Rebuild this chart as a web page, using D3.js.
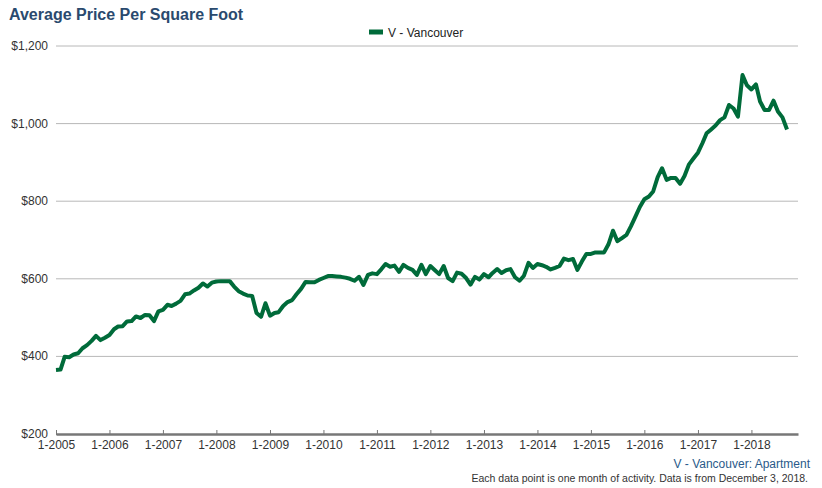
<!DOCTYPE html>
<html><head><meta charset="utf-8">
<script src="https://cdn.jsdelivr.net/npm/d3@7"></script>
<style>body{margin:0;background:#fff;font-family:"Liberation Sans",Arial,sans-serif}</style>
</head><body><svg id="c" width="822" height="488"></svg>
<script>
const startMonth = "2005-01";
const prices = [365,366,399,398,405,408,421,429,440,453,442,448,455,470,477,478,490,491,503,499,507,506,491,516,520,533,530,536,543,560,562,570,577,588,580,590,593,594,594,594,580,568,562,557,556,512,502,537,505,512,514,530,540,545,560,574,592,591,591,597,602,607,
607,606,605,603,600,595,605,584,610,614,612,625,638,631,634,618,636,628,623,610,636,612,633,622,612,633,602,594,616,613,602,585,605,598,612,604,615,625,615,622,625,604,595,608,641,628,638,635,631,624,628,633,652,648,651,623,645,664,664,668,
668,668,689,724,697,705,713,735,760,785,805,812,825,862,885,855,860,860,845,865,895,910,925,950,975,985,995,1009,1016,1048,1039,1018,1125,1099,1088,1101,1057,1035,1035,1059,1031,1016,985];
const yTicks = [200,400,600,800,1000,1200];
const xTickYears = [2005,2006,2007,2008,2009,2010,2011,2012,2013,2014,2015,2016,2017,2018];
const seriesName = "V - Vancouver";

const start = d3.timeParse("%Y-%m")(startMonth);
const data = prices.map((v,i)=>({d:d3.timeMonth.offset(start,i), v}));
const svg = d3.select("#c");
const x = d3.scaleTime().domain([start, new Date(2018,10,15)]).range([56,798]);
const y = d3.scaleLinear().domain([200,1200]).range([434,46]);

svg.append("text").attr("x",9).attr("y",20).text("Average Price Per Square Foot")
  .attr("font-size",16).attr("font-weight","bold").attr("fill","#2a4a6e");

const gy = svg.append("g");
yTicks.forEach(t=>{
  if(t>200) gy.append("line").attr("x1",56).attr("x2",798).attr("y1",y(t)).attr("y2",y(t)).attr("stroke","#b8b8b8").attr("stroke-width",1);
  gy.append("text").attr("x",48).attr("y",y(t)+4).attr("text-anchor","end").attr("font-size",12).attr("fill","#333").text(d3.format("$,")(t));
});
const xa = d3.axisBottom(x).tickValues(xTickYears.map(yy=>new Date(yy,0,1))).tickFormat(d=>"1-"+d.getFullYear()).tickSize(5).tickSizeOuter(0);
const gx = svg.append("g").attr("transform","translate(0,434)").call(xa);
gx.select(".domain").attr("stroke","#777").attr("stroke-width",2.5);
gx.selectAll(".tick line").attr("stroke","#777").attr("transform","translate(0,-4)");
gx.selectAll(".tick text").attr("font-size",12).attr("fill","#333").attr("font-family","Liberation Sans,Arial,sans-serif").attr("dy","0.6em");

svg.append("path").datum(data).attr("fill","none").attr("stroke","#006b3a").attr("stroke-width",4).attr("stroke-linejoin","round")
  .attr("d",d3.line().x(d=>x(d.d)).y(d=>y(d.v)));

svg.append("line").attr("x1",369).attr("x2",383).attr("y1",32).attr("y2",32).attr("stroke","#006b3a").attr("stroke-width",5);
svg.append("text").attr("x",388).attr("y",37).attr("font-size",12).attr("fill","#222").text(seriesName);

svg.append("text").attr("x",810).attr("y",468).attr("text-anchor","end").attr("font-size",12).attr("fill","#2a5a8a").text(seriesName+": Apartment");
svg.append("text").attr("x",808).attr("y",482).attr("text-anchor","end").attr("font-size",10.5).attr("fill","#333").text("Each data point is one month of activity. Data is from December 3, 2018.");
</script></body></html>
